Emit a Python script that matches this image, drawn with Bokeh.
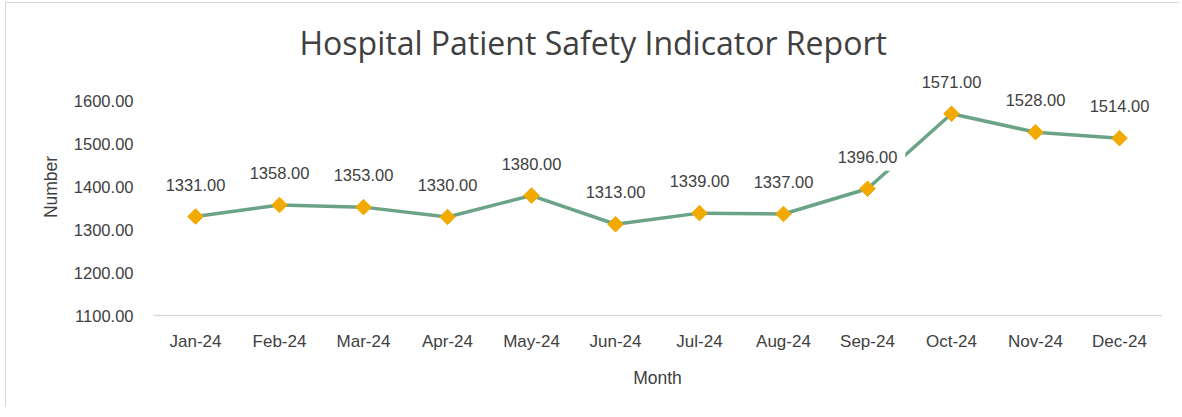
import math
from bokeh.plotting import figure
from bokeh.models import ColumnDataSource, FactorRange, Range1d, FixedTicker, PrintfTickFormatter, Label
from bokeh.embed import file_html
from bokeh.resources import INLINE

months = ["Jan-24", "Feb-24", "Mar-24", "Apr-24", "May-24", "Jun-24",
          "Jul-24", "Aug-24", "Sep-24", "Oct-24", "Nov-24", "Dec-24"]
values = [1331, 1358, 1353, 1330, 1380, 1313, 1339, 1337, 1396, 1571, 1528, 1514]
y_ticks = [1100, 1200, 1300, 1400, 1500, 1600]

FONT = "Liberation Sans"
TXT = "#404040"

src = ColumnDataSource(dict(x=months, y=values))

p = figure(width=1174, height=405, x_range=FactorRange(*months, range_padding=0),
           y_range=Range1d(1100, 1700), output_backend="svg", toolbar_location=None,
           min_border_left=147, min_border_right=19, min_border_top=55, min_border_bottom=93,
           title="Hospital Patient Safety Indicator Report")
p.margin = (2, 0, 0, 5)
p.styles = {"border-left": "1px solid #d9d9d9", "border-top": "1px solid #d9d9d9"}
p.title.text_font = "Open Sans"
p.title.text_font_size = "32px"
p.title.text_font_style = "normal"
p.title.text_color = TXT
p.title.align = "left"
p.title.offset = 146
p.title.standoff = -10
p.outline_line_color = None
p.xgrid.grid_line_color = None
p.ygrid.grid_line_color = None

p.line("x", "y", source=src, line_color="#6ba386", line_width=3.5)
p.scatter("x", "y", source=src, marker="square", angle=math.pi / 4, size=11,
          fill_color="#f2a900", line_color="#f2a900")

# factor i sits at synthetic coordinate i + 0.5 on a FactorRange
for i, v in enumerate(values):
    p.add_layout(Label(x=i + 0.5, y=v, text="%.2f" % v, y_offset=32, text_align="center",
                       text_baseline="middle", text_font=FONT, text_font_size="16.5px",
                       text_color=TXT, background_fill_color="white", background_fill_alpha=1.0,
                       padding=8))

p.yaxis.ticker = FixedTicker(ticks=y_ticks)
p.yaxis.formatter = PrintfTickFormatter(format="%.2f")
p.yaxis.axis_line_color = None
p.yaxis.major_tick_line_color = None
p.yaxis.minor_tick_line_color = None
p.yaxis.major_tick_out = 0
p.yaxis.minor_tick_out = 0
p.yaxis.major_label_standoff = 20
p.yaxis.major_label_text_font_size = "16.5px"
p.yaxis.axis_label = "Number"
p.yaxis.axis_label_standoff = 10

p.xaxis.axis_line_color = "#d9d9d9"
p.xaxis.axis_line_width = 1.5
p.xaxis.major_tick_line_color = None
p.xaxis.minor_tick_line_color = None
p.xaxis.major_tick_out = 0
p.xaxis.minor_tick_out = 0
p.xaxis.major_label_standoff = 16
p.xaxis.major_label_text_font_size = "17px"
p.xaxis.axis_label = "Month"
p.xaxis.axis_label_standoff = 14

for ax in (p.xaxis, p.yaxis):
    ax.major_label_text_font = FONT
    ax.major_label_text_color = TXT
    ax.axis_label_text_font = FONT
    ax.axis_label_text_font_size = "17.5px"
    ax.axis_label_text_font_style = "normal"
    ax.axis_label_text_color = TXT

open("out.html", "w").write(file_html(p, INLINE))
